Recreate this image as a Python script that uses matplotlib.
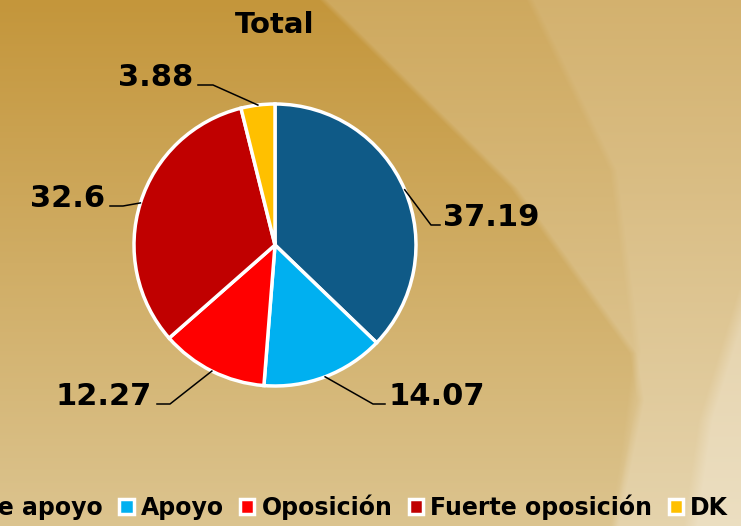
import numpy as np
import matplotlib
matplotlib.use("Agg")
import matplotlib.pyplot as plt

labels = ["Fuerte apoyo", "Apoyo", "Oposición", "Fuerte oposición", "DK"]
values = [37.19, 14.07, 12.27, 32.6, 3.88]
value_text = ["37.19", "14.07", "12.27", "32.6", "3.88"]
colors = ["#0F5A87", "#00B0F0", "#FF0000", "#C00000", "#FFC000"]

W, H = 750, 526

# golden background with soft curved bands
yy, xx = np.mgrid[0:H, 0:W].astype(float)
t = yy / H
top = np.array([0xC4, 0x96, 0x3B]) / 255
bot = np.array([0xDC, 0xC4, 0x8F]) / 255
img = top[None, None, :] * (1 - t[..., None]) + bot[None, None, :] * t[..., None]

def side(cy, cx, soft=8.0):
    edge = np.interp(yy, cy, cx)
    return np.clip((xx - edge) / soft + 0.5, 0, 1)[..., None]

r1 = side([0, 187, 353, 400, 526], [323, 513, 633, 640, 615])
r2 = side([0, 170, 350, 450, 526], [530, 613, 637, 625, 613])
r3 = side([0, 290, 420, 526], [1500, 745, 705, 690], soft=14.0)
white = np.ones(3)
img = img * (1 - 0.18 * r1) + white * 0.18 * r1
img = img * (1 - 0.10 * r2) + white * 0.10 * r2
img = img * (1 - 0.25 * r3) + white * 0.25 * r3
img[:, 741:] = 1.0

fig = plt.figure(figsize=(7.5, 5.26), dpi=100)
ax = fig.add_axes([0, 0, 1, 1])
ax.imshow(img, extent=[0, W, 0, H], origin="upper", zorder=0)

cx, cy, R = 275, 281, 141
wedges, _ = ax.pie(values, colors=colors, startangle=90, counterclock=False,
                   center=(cx, cy), radius=R, frame=True,
                   wedgeprops=dict(edgecolor="white", linewidth=2.5))
for w in wedges:
    w.set_zorder(2)

# leader lines: knee and end points in pixels from top-left
leaders = [
    dict(knee=(431, 225), end=(440, 225), ha="left"),
    dict(knee=(373, 404), end=(385, 404), ha="left"),
    dict(knee=(170, 404), end=(157, 404), ha="right"),
    dict(knee=(123, 206), end=(110, 206), ha="right"),
    dict(knee=(213, 85), end=(198, 85), ha="right"),
]
for w, txt, ld in zip(wedges, value_text, leaders):
    mid = np.deg2rad((w.theta1 + w.theta2) / 2)
    px = cx + R * np.cos(mid)
    py = cy + R * np.sin(mid)
    kx, ky = ld["knee"][0], H - ld["knee"][1]
    ex, ey = ld["end"][0], H - ld["end"][1]
    ax.plot([px, kx, ex], [py, ky, ey], color="black", lw=1.1, zorder=3)
    tx = ex + 3 if ld["ha"] == "left" else ex - 5
    ax.text(tx, ey - 1, txt, ha=ld["ha"], va="baseline", fontsize=22,
            fontweight="bold", color="black", zorder=4)

ax.text(cx, H - 25, "Total", ha="center", va="center", fontsize=21,
        fontweight="bold", color="black", zorder=4)

ax.set_xlim(0, W)
ax.set_ylim(0, H)
ax.set_aspect("auto")
ax.axis("off")

leg = fig.legend(wedges, labels, loc="center right", bbox_to_anchor=(728 / W, 1 - 507 / H),
                 ncol=5, frameon=False, fontsize=17, handlelength=0.6,
                 handleheight=0.6, handletextpad=0.3, columnspacing=0.7,
                 borderaxespad=0, borderpad=0)
for t_ in leg.get_texts():
    t_.set_fontweight("bold")

plt.savefig("out.png", dpi=100)
